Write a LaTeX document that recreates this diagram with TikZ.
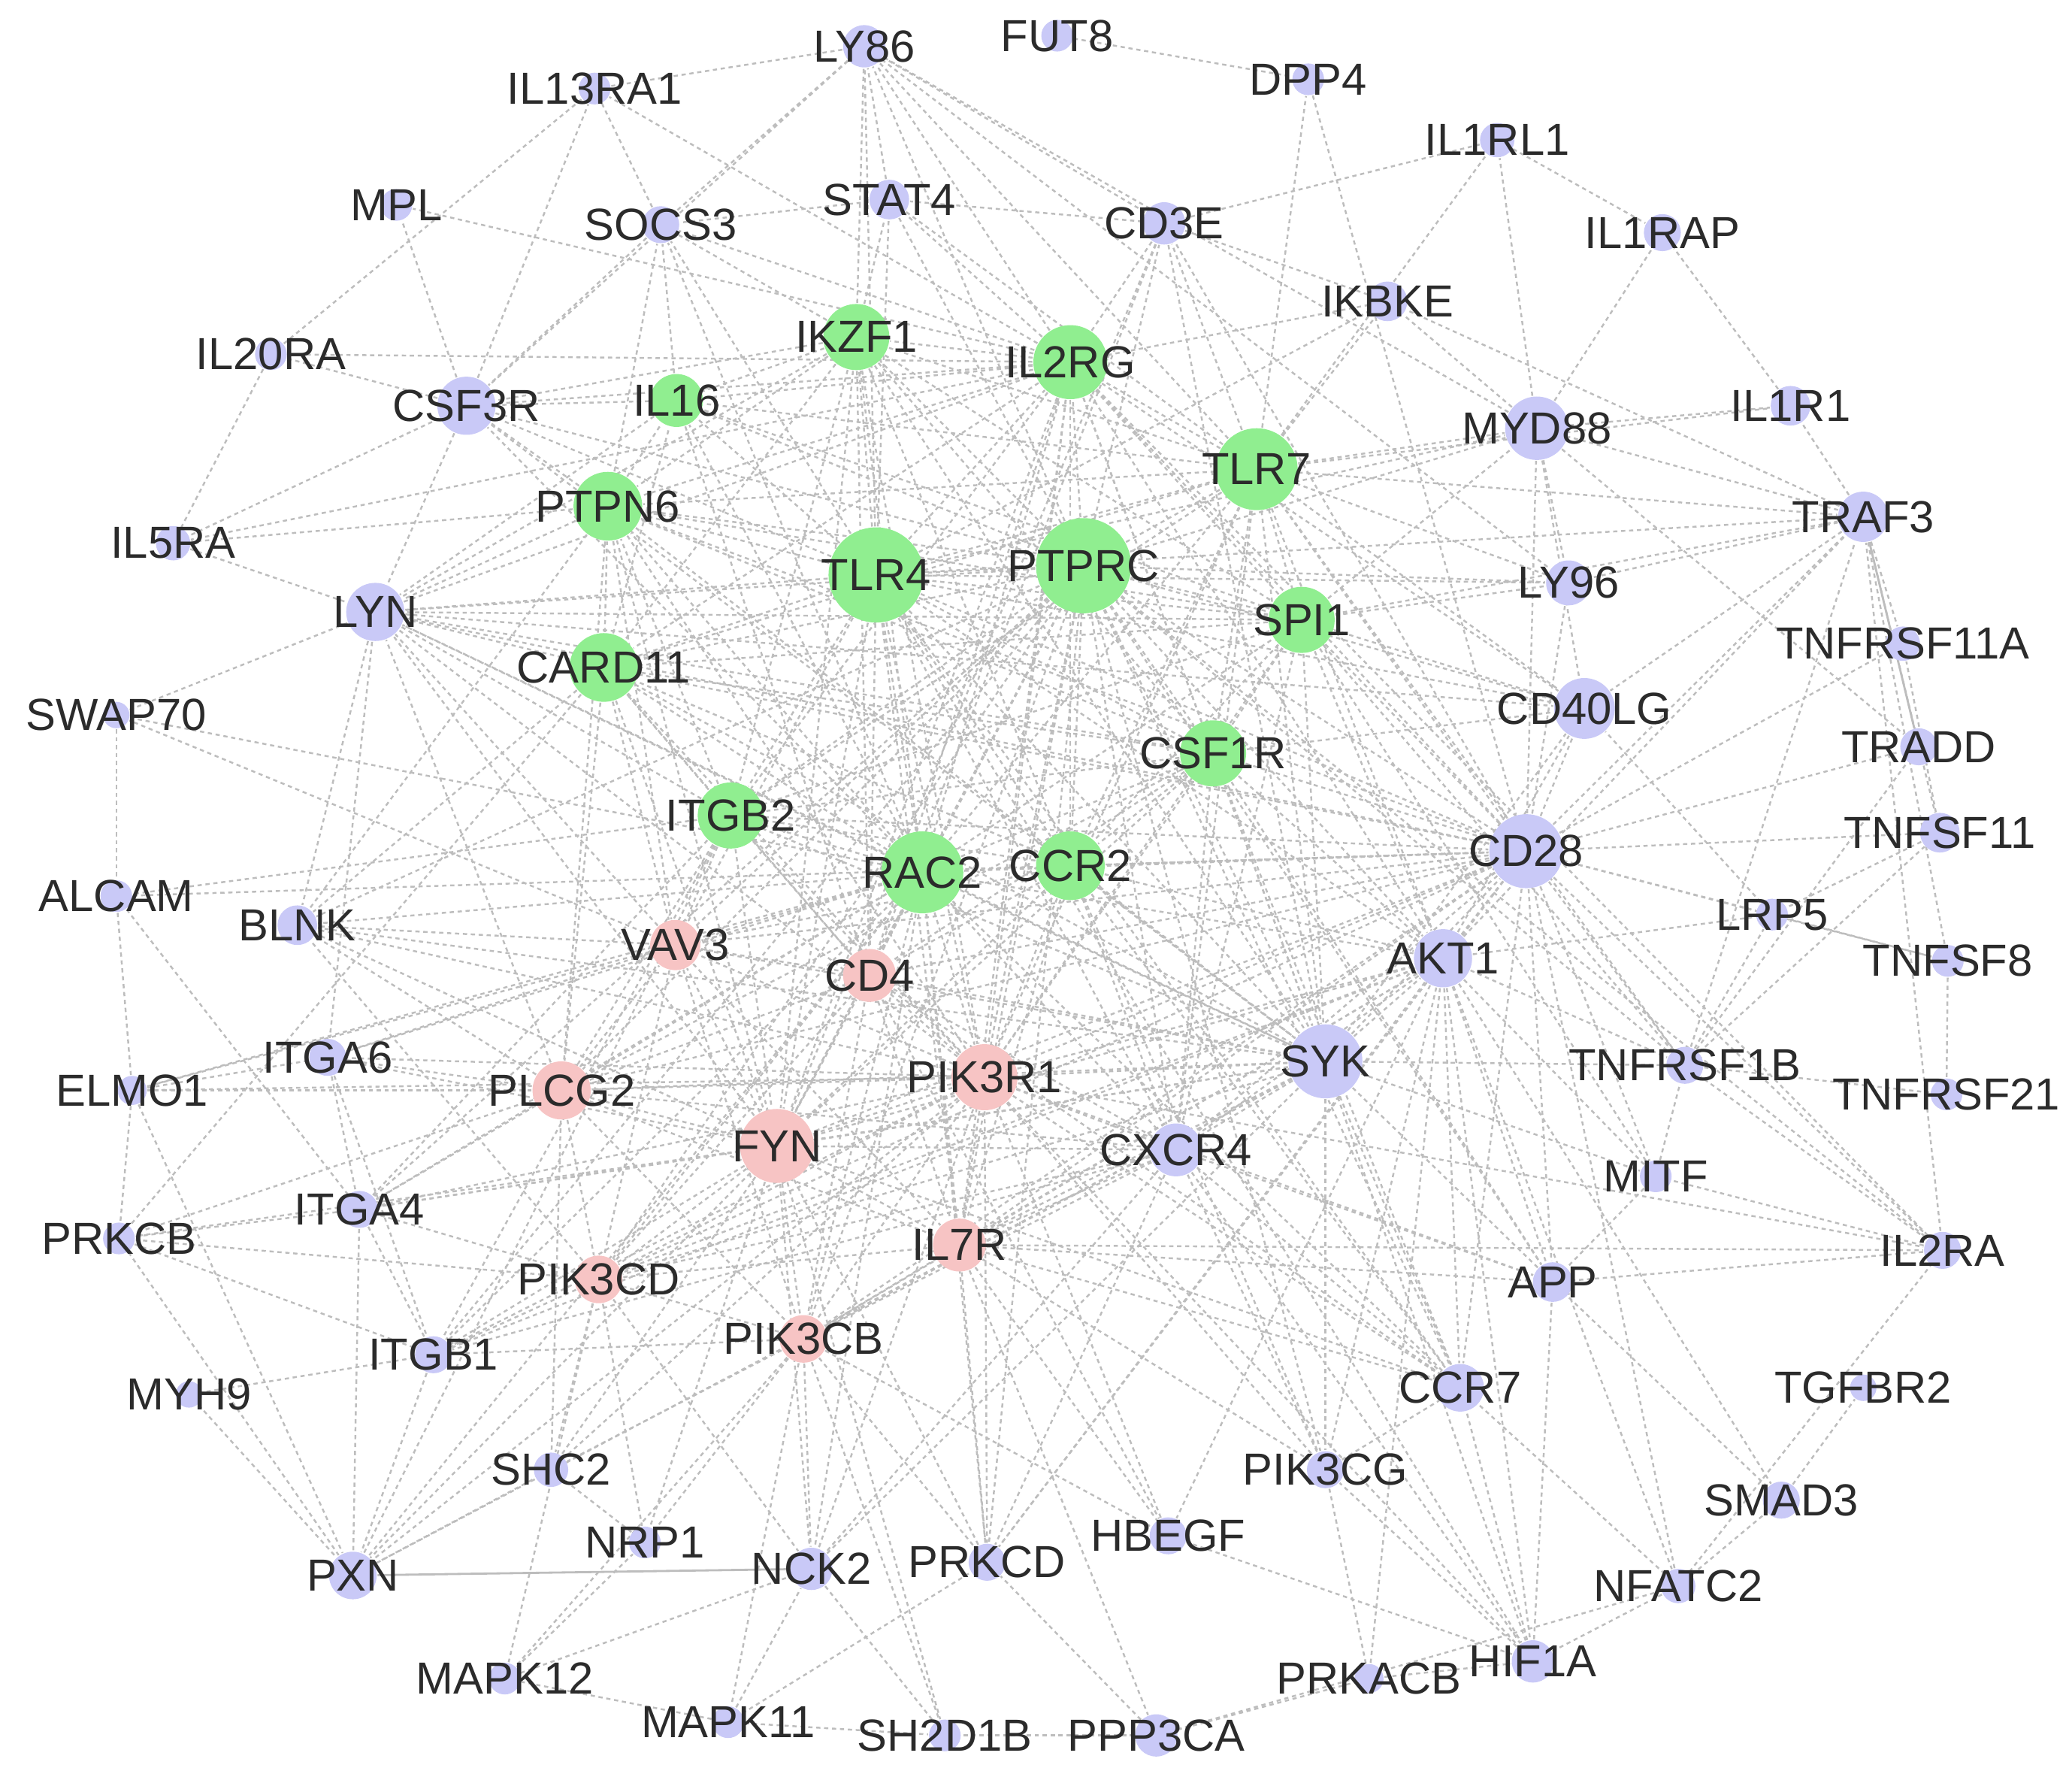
\documentclass[tikz,border=0pt]{standalone}
\usepackage{fontspec}
\setmainfont{Liberation Sans}
\usetikzlibrary{backgrounds}

\definecolor{grn}{HTML}{90EE90}
\definecolor{pnk}{HTML}{F7C4C4}
\definecolor{lav}{HTML}{C9C9F7}
\definecolor{txt}{HTML}{2B2B2B}
\definecolor{edg}{HTML}{BDBDBD}

\tikzset{every picture/.style={line width=0.75pt}}
\tikzset{
  gene/.style={circle, inner sep=0pt, draw=none, minimum size=#1},
  grnnode/.style={gene=#1, fill=grn},
  pnknode/.style={gene=#1, fill=pnk},
  lavnode/.style={gene=#1, fill=lav},
  lbl/.style={font=\fontsize{17pt}{17pt}\selectfont, text=txt, inner sep=0pt},
  edge/.style={draw=edg, line width=0.7pt, dash pattern=on 1.6pt off 1.4pt},
  link/.style={draw=edg, line width=0.8pt}
}

\begin{document}
\begin{tikzpicture}[x=0.5pt,y=-0.5pt]
\useasboundingbox (0,0) rectangle (1568,1344);

%Green nodes
\node[grnnode=36pt, label={[lbl]center:TLR4}] (tlr4) at (663,435) {};
\node[grnnode=36pt, label={[lbl]center:PTPRC}] (ptprc) at (820,428) {};
\node[grnnode=31pt, label={[lbl]center:TLR7}] (tlr7) at (951,355) {};
\node[grnnode=28pt, label={[lbl]center:IL2RG}] (il2rg) at (810,274) {};
\node[grnnode=25pt, label={[lbl]center:IKZF1}] (ikzf1) at (648,255) {};
\node[grnnode=20pt, label={[lbl]center:IL16}] (il16) at (512,303) {};
\node[grnnode=26pt, label={[lbl]center:PTPN6}] (ptpn6) at (460,383) {};
\node[grnnode=26pt, label={[lbl]center:CARD11}] (card11) at (457,505) {};
\node[grnnode=25pt, label={[lbl]center:SPI1}] (spi1) at (985,469) {};
\node[grnnode=25pt, label={[lbl]center:CSF1R}] (csf1r) at (918,570) {};
\node[grnnode=25pt, label={[lbl]center:ITGB2}] (itgb2) at (553,617) {};
\node[grnnode=31pt, label={[lbl]center:RAC2}] (rac2) at (698,660) {};
\node[grnnode=26pt, label={[lbl]center:CCR2}] (ccr2) at (810,655) {};

%Pink nodes
\node[pnknode=19pt, label={[lbl]center:VAV3}] (vav3) at (511,715) {};
\node[pnknode=20pt, label={[lbl]center:CD4}] (cd4) at (658,738) {};
\node[pnknode=22pt, label={[lbl]center:PLCG2}] (plcg2) at (425,825) {};
\node[pnknode=25pt, label={[lbl]center:PIK3R1}] (pik3r1) at (745,815) {};
\node[pnknode=28pt, label={[lbl]center:FYN}] (fyn) at (588,867) {};
\node[pnknode=20pt, label={[lbl]center:IL7R}] (il7r) at (726,942) {};
\node[pnknode=18pt, label={[lbl]center:PIK3CD}] (pik3cd) at (453,968) {};
\node[pnknode=18pt, label={[lbl]center:PIK3CB}] (pik3cb) at (608,1013) {};

%Lavender nodes
\node[lavnode=16pt, label={[lbl]center:LY86}] (ly86) at (654,35) {};
\node[lavnode=12pt, label={[lbl]center:FUT8}] (fut8) at (800,27) {};
\node[lavnode=12pt, label={[lbl]center:DPP4}] (dpp4) at (990,60) {};
\node[lavnode=12pt, label={[lbl]center:IL13RA1}] (il13ra1) at (450,67) {};
\node[lavnode=13pt, label={[lbl]center:IL1RL1}] (il1rl1) at (1133,106) {};
\node[lavnode=12pt, label={[lbl]center:MPL}] (mpl) at (300,155) {};
\node[lavnode=14pt, label={[lbl]center:SOCS3}] (socs3) at (500,170) {};
\node[lavnode=15pt, label={[lbl]center:STAT4}] (stat4) at (673,151) {};
\node[lavnode=16pt, label={[lbl]center:CD3E}] (cd3e) at (881,169) {};
\node[lavnode=14pt, label={[lbl]center:IL1RAP}] (il1rap) at (1258,176) {};
\node[lavnode=15pt, label={[lbl]center:IKBKE}] (ikbke) at (1050,228) {};
\node[lavnode=12pt, label={[lbl]center:IL20RA}] (il20ra) at (205,268) {};
\node[lavnode=22pt, label={[lbl]center:CSF3R}] (csf3r) at (353,307) {};
\node[lavnode=24pt, label={[lbl]center:MYD88}] (myd88) at (1163,324) {};
\node[lavnode=15pt, label={[lbl]center:IL1R1}] (il1r1) at (1355,307) {};
\node[lavnode=19pt, label={[lbl]center:TRAF3}] (traf3) at (1410,391) {};
\node[lavnode=13pt, label={[lbl]center:IL5RA}] (il5ra) at (131,411) {};
\node[lavnode=22pt, label={[lbl]center:LYN}] (lyn) at (284,463) {};
\node[lavnode=17pt, label={[lbl]center:LY96}] (ly96) at (1187,441) {};
\node[lavnode=13pt, label={[lbl]center:TNFRSF11A}] (tnfrsf11a) at (1440,487) {};
\node[lavnode=10pt, label={[lbl]center:SWAP70}] (swap70) at (88,541) {};
\node[lavnode=23pt, label={[lbl]center:CD40LG}] (cd40lg) at (1199,536) {};
\node[lavnode=14pt, label={[lbl]center:TRADD}] (tradd) at (1452,565) {};
\node[lavnode=15pt, label={[lbl]center:TNFSF11}] (tnfsf11) at (1468,630) {};
\node[lavnode=28pt, label={[lbl]center:CD28}] (cd28) at (1155,644) {};
\node[lavnode=12pt, label={[lbl]center:ALCAM}] (alcam) at (88,678) {};
\node[lavnode=15pt, label={[lbl]center:BLNK}] (blnk) at (225,700) {};
\node[lavnode=12pt, label={[lbl]center:LRP5}] (lrp5) at (1341,692) {};
\node[lavnode=22pt, label={[lbl]center:AKT1}] (akt1) at (1092,725) {};
\node[lavnode=12pt, label={[lbl]center:TNFSF8}] (tnfsf8) at (1474,727) {};
\node[lavnode=14pt, label={[lbl]center:ITGA6}] (itga6) at (248,800) {};
\node[lavnode=11pt, label={[lbl]center:ELMO1}] (elmo1) at (100,825) {};
\node[lavnode=28pt, label={[lbl]center:SYK}] (syk) at (1003,803) {};
\node[lavnode=14pt, label={[lbl]center:TNFRSF1B}] (tnfrsf1b) at (1275,806) {};
\node[lavnode=12pt, label={[lbl]center:TNFRSF21}] (tnfrsf21) at (1473,828) {};
\node[lavnode=20pt, label={[lbl]center:CXCR4}] (cxcr4) at (890,870) {};
\node[lavnode=12pt, label={[lbl]center:MITF}] (mitf) at (1253,890) {};
\node[lavnode=12pt, label={[lbl]center:PRKCB}] (prkcb) at (90,937) {};
\node[lavnode=14pt, label={[lbl]center:ITGA4}] (itga4) at (272,915) {};
\node[lavnode=14pt, label={[lbl]center:IL2RA}] (il2ra) at (1470,946) {};
\node[lavnode=15pt, label={[lbl]center:APP}] (app) at (1175,970) {};
\node[lavnode=14pt, label={[lbl]center:ITGB1}] (itgb1) at (328,1025) {};
\node[lavnode=10pt, label={[lbl]center:MYH9}] (myh9) at (143,1055) {};
\node[lavnode=18pt, label={[lbl]center:CCR7}] (ccr7) at (1105,1050) {};
\node[lavnode=10pt, label={[lbl]center:TGFBR2}] (tgfbr2) at (1410,1050) {};
\node[lavnode=14pt, label={[lbl]center:PIK3CG}] (pik3cg) at (1003,1112) {};
\node[lavnode=13pt, label={[lbl]center:SHC2}] (shc2) at (417,1112) {};
\node[lavnode=14pt, label={[lbl]center:SMAD3}] (smad3) at (1348,1135) {};
\node[lavnode=14pt, label={[lbl]center:HBEGF}] (hbegf) at (884,1162) {};
\node[lavnode=12pt, label={[lbl]center:NRP1}] (nrp1) at (488,1167) {};
\node[lavnode=18pt, label={[lbl]center:PXN}] (pxn) at (267,1192) {};
\node[lavnode=16pt, label={[lbl]center:NCK2}] (nck2) at (614,1187) {};
\node[lavnode=14pt, label={[lbl]center:PRKCD}] (prkcd) at (747,1182) {};
\node[lavnode=13pt, label={[lbl]center:NFATC2}] (nfatc2) at (1270,1200) {};
\node[lavnode=12pt, label={[lbl]center:MAPK12}] (mapk12) at (382,1270) {};
\node[lavnode=16pt, label={[lbl]center:HIF1A}] (hif1a) at (1160,1257) {};
\node[lavnode=11pt, label={[lbl]center:PRKACB}] (prkacb) at (1036,1270) {};
\node[lavnode=12pt, label={[lbl]center:MAPK11}] (mapk11) at (551,1303) {};
\node[lavnode=12pt, label={[lbl]center:SH2D1B}] (sh2d1b) at (715,1313) {};
\node[lavnode=16pt, label={[lbl]center:PPP3CA}] (ppp3ca) at (875,1313) {};

%Interactions
\begin{pgfonlayer}{background}
\foreach \s/\tl in {
  ptprc/{tlr4,tlr7,il2rg,ikzf1,il16,ptpn6,card11,spi1,csf1r,itgb2,rac2,ccr2,vav3,cd4,plcg2,pik3r1,fyn,il7r,pik3cd,pik3cb,lyn,syk,cd28,cd3e,cd40lg,cxcr4,akt1,csf3r,ly86,myd88,blnk,stat4,ccr7,app,il2ra,itga4,itgb1,prkcd,pik3cg,tnfrsf1b,ly96},
  tlr4/{tlr7,il2rg,ikzf1,il16,ptpn6,card11,spi1,csf1r,itgb2,rac2,ccr2,cd4,pik3r1,fyn,syk,cd28,myd88,ly96,ly86,traf3,ikbke,akt1,cxcr4,lyn,cd40lg,socs3,stat4,hif1a,ccr7,il7r,csf3r,vav3},
  rac2/{tlr7,il2rg,ikzf1,itgb2,ccr2,vav3,cd4,plcg2,pik3r1,fyn,pik3cd,pik3cb,syk,akt1,cxcr4,cd28,elmo1,itga6,itga4,itgb1,pxn,nck2,csf1r,spi1,card11,ptpn6,lyn,blnk,swap70,il7r,prkcd,ccr7,il16,csf3r,socs3},
  tlr7/{il2rg,ikzf1,spi1,csf1r,ccr2,myd88,ly96,ikbke,traf3,cd3e,cd28,cd40lg,syk,il16,ptpn6,card11,itgb2,il1r1,akt1,cxcr4,pik3r1,il1rl1,dpp4,stat4,ly86,tnfrsf1b},
  il2rg/{ikzf1,il16,ptpn6,card11,spi1,csf1r,itgb2,ccr2,cd4,pik3r1,fyn,il7r,il2ra,syk,cd28,cd3e,cd40lg,stat4,socs3,csf3r,il20ra,il5ra,il13ra1,mpl,ly86,lyn,akt1,ikbke},
  ikzf1/{il16,ptpn6,card11,spi1,csf1r,itgb2,ccr2,cd4,stat4,ly86,socs3,csf3r,lyn,fyn,pik3r1,syk},
  spi1/{csf1r,ccr2,card11,ptpn6,itgb2,syk,cd28,cd40lg,myd88,ly96,traf3,akt1,cxcr4,lyn,mitf,pik3r1,tnfrsf1b,il16},
  csf1r/{ccr2,itgb2,card11,ptpn6,syk,pik3r1,fyn,akt1,cxcr4,cd28,cd4,lyn,plcg2,ccr7,app,cd40lg},
  ccr2/{itgb2,card11,cd4,pik3r1,fyn,syk,cxcr4,ccr7,akt1,cd28,il7r,pik3cg,vav3},
  itgb2/{card11,ptpn6,cd4,vav3,plcg2,fyn,syk,pik3r1,lyn,itga4,itgb1,cd28,pxn,alcam},
  card11/{ptpn6,il16,lyn,vav3,plcg2,fyn,pik3r1,cd28,syk,prkcb,cd4,blnk},
  ptpn6/{il16,csf3r,lyn,syk,fyn,plcg2,vav3,cd28,il5ra,socs3,pik3r1,blnk},
  il16/{csf3r,socs3,cd4,lyn},
  syk/{cd28,akt1,cxcr4,pik3r1,fyn,plcg2,vav3,cd4,blnk,lyn,ccr7,pik3cg,il7r,app,mitf,hif1a,cd40lg,tnfrsf1b,itga4,pxn,nck2,pik3cd,pik3cb,csf3r},
  cd28/{akt1,cd40lg,traf3,tnfsf11,tnfrsf11a,tradd,lrp5,tnfsf8,tnfrsf1b,il2ra,ccr7,cxcr4,pik3r1,fyn,cd4,cd3e,il7r,vav3,plcg2,pik3cd,pik3cb,lyn,myd88,ly96,nfatc2,app,mitf,prkcd},
  fyn/{pik3r1,plcg2,vav3,cd4,il7r,pik3cd,pik3cb,cxcr4,akt1,itga4,itgb1,pxn,nck2,shc2,sh2d1b,prkcd,nrp1,lyn,blnk,itga6,ccr7,prkcb,cd3e},
  pik3r1/{plcg2,vav3,cd4,il7r,pik3cd,pik3cb,cxcr4,akt1,pik3cg,ccr7,itga4,itgb1,pxn,nck2,shc2,prkcd,hbegf,app,itga6,blnk,lyn,il2ra,hif1a,elmo1},
  akt1/{pik3cd,pik3cb,pik3cg,cxcr4,ccr7,app,hif1a,mitf,smad3,nfatc2,tnfrsf1b,lrp5,traf3,cd40lg,il7r,prkacb,hbegf,prkcd,itgb1},
  cxcr4/{ccr7,pik3cg,il7r,app,cd4,pik3cb,pik3cd,plcg2,hif1a,itgb1,prkcd,nck2},
  plcg2/{vav3,cd4,blnk,itga6,itga4,prkcb,pik3cd,pik3cb,lyn,elmo1,shc2,il7r},
  vav3/{cd4,lyn,blnk,swap70,pik3cd,pik3cb,il7r,elmo1,itga6},
  cd4/{il7r,cd3e,pik3cb,pik3cd,ccr7,hbegf},
  pik3cd/{pik3cb,il7r,itga4,itgb1,blnk,nck2,nrp1,shc2,mapk12,prkcb},
  pik3cb/{il7r,nck2,nrp1,mapk11,mapk12,sh2d1b,prkcd,shc2,itgb1,hbegf},
  il7r/{il2ra,ccr7,pik3cg,prkcd,hbegf,ppp3ca,app},
  mapk11/{mapk12,sh2d1b,prkcd,nck2},
  mapk12/{nck2,nrp1},
  ppp3ca/{prkacb,nfatc2,prkcd,sh2d1b},
  prkacb/{hif1a,pik3cg},
  hif1a/{nfatc2,hbegf,pik3cg,ccr7,app},
  nfatc2/{smad3,ccr7,il2ra},
  smad3/{tgfbr2,app},
  il2ra/{tnfrsf1b,app,mitf,traf3},
  mitf/{tnfrsf1b,app},
  tnfrsf1b/{traf3,tradd,lrp5,tnfrsf21,tnfsf11},
  traf3/{tnfrsf11a,tnfsf11,il1r1,myd88,ly96,cd40lg,ikbke,tnfsf8},
  tnfsf8/{tnfrsf21,lrp5},
  tnfsf11/{tnfrsf11a,lrp5},
  lrp5/{cd40lg},
  myd88/{il1r1,il1rap,il1rl1,ly96,ly86,ikbke,cd40lg,tradd},
  il1r1/{il1rap},
  il1rl1/{il1rap,cd3e},
  ikbke/{cd3e},
  cd3e/{ly86,syk,stat4},
  stat4/{ly86,socs3},
  ly86/{ly96,il13ra1,csf3r,socs3},
  fut8/{dpp4},
  dpp4/{cd28},
  socs3/{csf3r,il13ra1},
  csf3r/{lyn,mpl,il20ra,il5ra,il13ra1},
  il20ra/{il5ra,il13ra1},
  il5ra/{lyn},
  lyn/{blnk,swap70,itga6,cd40lg},
  swap70/{alcam},
  alcam/{elmo1,itga4,cd28},
  elmo1/{itga6,pxn,prkcb},
  itga6/{itgb1,itga4},
  prkcb/{itga4,itgb1,pxn},
  itga4/{itgb1,pxn},
  itgb1/{pxn,myh9},
  myh9/{pxn},
  pxn/{shc2},
  shc2/{nrp1},
  nck2/{sh2d1b},
  pik3cg/{ccr7}}
  {\foreach \t in \tl {\draw[edge] (\s) -- (\t);}}
%Solid lines
\draw[link] (pxn) -- (nck2);
\draw[link] (traf3) -- (tradd);
\end{pgfonlayer}

\end{tikzpicture}
\end{document}
